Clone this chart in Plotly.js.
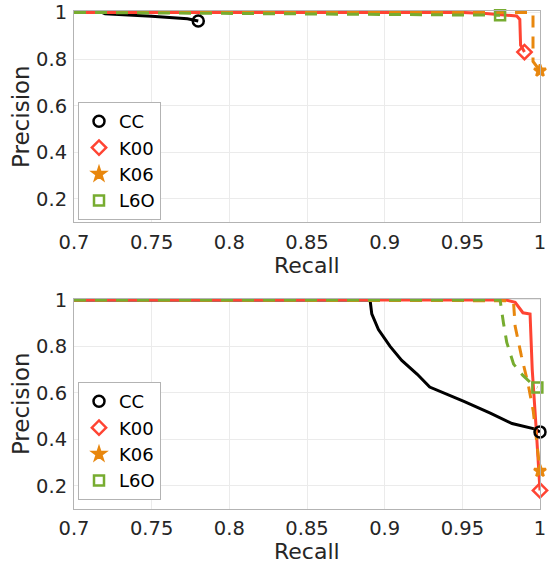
<!DOCTYPE html>
<html>
<head>
<meta charset="utf-8">
<script src="https://cdn.plot.ly/plotly-3.0.1.min.js"></script>
<style>html,body{margin:0;padding:0;background:#fff;}#chart{width:552px;height:564px;}</style>
</head>
<body>
<div id="chart"></div>
<script>
// Series names
const seriesNames = ['CC', 'K00', 'K06', 'L6O'];

// Top panel (recall, precision)
const topCCx  = [0.7, 0.718, 0.72, 0.75, 0.773, 0.78];
const topCCy  = [1.0, 1.0, 0.994, 0.984, 0.973, 0.963];
const topK00x = [0.7, 0.95, 0.965, 0.975, 0.985, 0.987, 0.9875, 0.99];
const topK00y = [1.0, 1.0, 0.995, 0.99, 0.985, 0.97, 0.86, 0.83];
const topK06x = [0.7, 0.9955, 0.9955, 1.0];
const topK06y = [1.0, 1.0, 0.79, 0.75];
const topL6Ox = [0.7, 0.9743];
const topL6Oy = [1.0, 0.988];

// Bottom panel (recall, precision)
const botCCx  = [0.7, 0.8906, 0.8917, 0.896, 0.9035, 0.911, 0.921, 0.929, 0.951, 0.968, 0.982, 0.997, 1.0];
const botCCy  = [1.0, 1.0, 0.94, 0.873, 0.80, 0.74, 0.68, 0.625, 0.563, 0.513, 0.468, 0.444, 0.432];
const botK00x = [0.7, 0.978, 0.984, 0.987, 0.989, 0.9936, 0.995, 0.9975, 0.9995, 1.0];
const botK00y = [1.0, 1.0, 0.99, 0.96, 0.945, 0.94, 0.70, 0.45, 0.25, 0.18];
const botK06x = [0.7, 0.974, 0.98, 0.983, 0.984, 0.988, 0.9925, 0.9957, 0.9979, 1.0];
const botK06y = [1.0, 1.0, 0.997, 0.986, 0.887, 0.76, 0.633, 0.52, 0.393, 0.264];
const botL6Ox = [0.7, 0.9743, 0.9765, 0.9786, 0.983, 0.989, 0.9957, 0.9983];
const botL6Oy = [1.0, 1.0, 0.90, 0.817, 0.724, 0.675, 0.633, 0.623];

// Tick labels and titles
const xTickVals = [0.7, 0.75, 0.8, 0.85, 0.9, 0.95, 1.0];
const xTickText = ['0.7', '0.75', '0.8', '0.85', '0.9', '0.95', '1'];
const yTickVals = [0.2, 0.4, 0.6, 0.8, 1.0];
const yTickText = ['0.2', '0.4', '0.6', '0.8', '1'];
const xTitle = 'Recall';
const yTitle = 'Precision';

const colors  = ['#000000', '#ff4433', '#e8870e', '#77ac30'];
const dashes  = ['solid', 'solid', '12px,9px', '12px,9px'];
const symbols = ['circle-open', 'diamond-open', 'star', 'square-open'];
const sizes   = [11, 11, 9, 10];

const panels = [
  {xs: [topCCx, topK00x, topK06x, topL6Ox], ys: [topCCy, topK00y, topK06y, topL6Oy], xa: 'x', ya: 'y', lg: 'legend'},
  {xs: [botCCx, botK00x, botK06x, botL6Ox], ys: [botCCy, botK00y, botK06y, botL6Oy], xa: 'x2', ya: 'y2', lg: 'legend2'}
];

const traces = [];
panels.forEach(p => {
  for (let i = 0; i < 4; i++) {
    traces.push({
      type: 'scatter', mode: 'lines', x: p.xs[i], y: p.ys[i], xaxis: p.xa, yaxis: p.ya,
      line: {color: colors[i], width: 3, dash: dashes[i], shape: 'linear'},
      showlegend: false, hoverinfo: 'skip'
    });
  }
  for (let i = 0; i < 4; i++) {
    const n = p.xs[i].length;
    traces.push({
      type: 'scatter', mode: 'markers', x: [p.xs[i][n-1]], y: [p.ys[i][n-1]], xaxis: p.xa, yaxis: p.ya,
      name: seriesNames[i], legend: p.lg, cliponaxis: false,
      marker: {symbol: symbols[i], size: sizes[i], color: colors[i],
               line: {color: colors[i], width: 2.5}},
      showlegend: true
    });
  }
});

const textColor = '#262626';
function xAxis() {
  return {
    range: [0.7, 1.0], tickvals: xTickVals, ticktext: xTickText,
    tickfont: {family: 'DejaVu Sans', size: 19.5, color: textColor},
    showgrid: true, gridcolor: '#ebebeb', gridwidth: 1,
    showline: true, linecolor: '#b3b3b3', linewidth: 1, mirror: true,
    zeroline: false, ticks: '', ticklabelstandoff: 2, automargin: false
  };
}
function yAxis(domain) {
  return {
    domain: domain, range: [0.1, 1.006], tickvals: yTickVals, ticktext: yTickText,
    tickfont: {family: 'DejaVu Sans', size: 19.5, color: textColor},
    showgrid: true, gridcolor: '#ebebeb', gridwidth: 1,
    showline: true, linecolor: '#b3b3b3', linewidth: 1, mirror: true,
    zeroline: false, ticks: '', ticklabelstandoff: 2, automargin: false,
    title: {text: yTitle, font: {family: 'DejaVu Sans', size: 23, color: textColor}, standoff: 0}
  };
}

const legendBase = {
  bgcolor: '#ffffff', bordercolor: '#b3b3b3', borderwidth: 1,
  font: {family: 'DejaVu Sans', size: 18, color: '#000000'},
  xanchor: 'left', yanchor: 'bottom', tracegroupgap: 0, itemwidth: 30
};

const titleFont = {family: 'DejaVu Sans', size: 22, color: textColor};
const layout = {
  width: 552, height: 564,
  margin: {l: 74, r: 12, t: 11, b: 55},
  paper_bgcolor: '#ffffff', plot_bgcolor: '#ffffff',
  font: {family: 'DejaVu Sans', color: textColor},
  xaxis: Object.assign(xAxis(), {anchor: 'y'}),
  yaxis: Object.assign(yAxis([0.5757, 1.0]), {anchor: 'x'}),
  xaxis2: Object.assign(xAxis(), {anchor: 'y2'}),
  yaxis2: Object.assign(yAxis([0.0, 0.4225]), {anchor: 'x2'}),
  legend: Object.assign({}, legendBase, {x: 0.0086, y: 0.5803}),
  legend2: Object.assign({}, legendBase, {x: 0.0086, y: 0.018}),
  showlegend: true,
  annotations: [
    {text: xTitle, xref: 'paper', yref: 'paper', x: 0.5, y: 0.489, xanchor: 'center', yanchor: 'middle',
     showarrow: false, font: titleFont, borderpad: 0},
    {text: xTitle, xref: 'paper', yref: 'paper', x: 0.5, y: -0.0853, xanchor: 'center', yanchor: 'middle',
     showarrow: false, font: titleFont, borderpad: 0}
  ]
};

Plotly.newPlot('chart', traces, layout, {staticPlot: true, displayModeBar: false});
</script>
</body>
</html>
